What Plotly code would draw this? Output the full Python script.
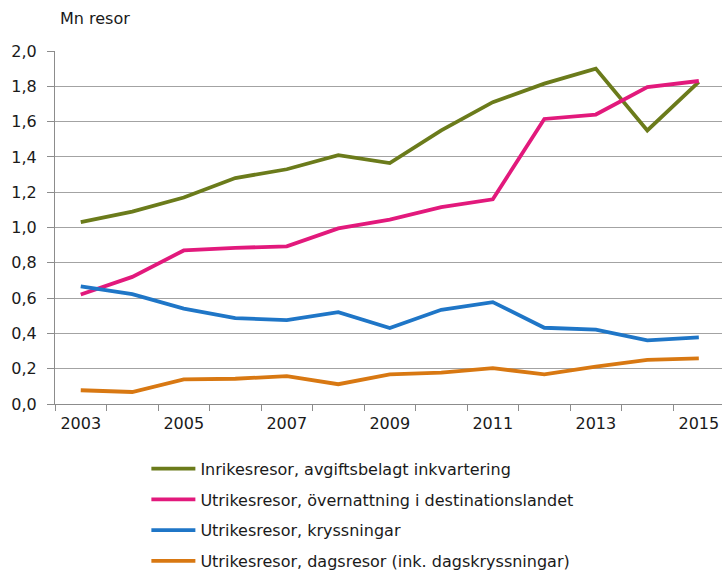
import plotly.graph_objects as go

years = list(range(2003, 2016))
inrikes = [1.03, 1.09, 1.17, 1.28, 1.33, 1.41, 1.365, 1.55, 1.71, 1.815, 1.90, 1.55, 1.825]
utrikes_overnatt = [0.62, 0.72, 0.87, 0.885, 0.893, 0.995, 1.045, 1.115, 1.16, 1.615, 1.64, 1.795, 1.83]
utrikes_kryss = [0.666, 0.622, 0.54, 0.487, 0.475, 0.52, 0.43, 0.534, 0.577, 0.432, 0.422, 0.36, 0.377]
utrikes_dags = [0.078, 0.068, 0.14, 0.143, 0.158, 0.112, 0.168, 0.178, 0.203, 0.168, 0.212, 0.25, 0.258]

names = [
    "Inrikesresor, avgiftsbelagt inkvartering",
    "Utrikesresor, övernattning i destinationslandet",
    "Utrikesresor, kryssningar",
    "Utrikesresor, dagsresor (ink. dagskryssningar)",
]
colors = ["#6b7b1b", "#e2197c", "#1f76c7", "#d87812"]
series = [inrikes, utrikes_overnatt, utrikes_kryss, utrikes_dags]

y_ticks = [0.0, 0.2, 0.4, 0.6, 0.8, 1.0, 1.2, 1.4, 1.6, 1.8, 2.0]
x_labels = [2003, 2005, 2007, 2009, 2011, 2013, 2015]

fig = go.Figure()
for i, (name, vals, col) in enumerate(zip(names, series, colors)):
    fig.add_trace(go.Scatter(
        x=years, y=vals, name=name, mode="lines",
        line=dict(color=col, width=3.8),
        legendgroup=f"g{i}",
    ))

font = "DejaVu Sans, Liberation Sans, Arial, sans-serif"
fig.update_layout(
    width=722, height=572,
    margin=dict(l=55, r=0, t=51, b=168, autoexpand=False),
    paper_bgcolor="white", plot_bgcolor="white",
    separators=", ",
    font=dict(family=font, size=16, color="#1a1a1a"),
    showlegend=True,
    legend=dict(
        x=0.137, y=-0.135, xanchor="left", yanchor="top",
        orientation="v", tracegroupgap=7,
        font=dict(family=font, size=16, color="#1a1a1a"),
        itemwidth=44, bgcolor="rgba(0,0,0,0)",
    ),
    xaxis=dict(
        range=[2002.5, 2015.45], tickmode="array", tickvals=x_labels,
        ticktext=[str(v) for v in x_labels],
        ticks="", showgrid=False, zeroline=False, automargin=False,
        showline=True, linecolor="#8c8c8c", linewidth=1,
        minor=dict(tick0=2002.5, dtick=1, ticks="outside", ticklen=6,
                   tickcolor="#8c8c8c", showgrid=False),
        tickfont=dict(size=16), ticklabelstandoff=5,
    ),
    yaxis=dict(
        range=[0, 2.0], tickmode="array", tickvals=y_ticks, tickformat=".1f",
        ticks="outside", ticklen=7, tickcolor="#8c8c8c", automargin=False,
        showgrid=True, gridcolor="#a3a3a3", gridwidth=1,
        zeroline=False, showline=True, linecolor="#8c8c8c", linewidth=1,
        tickfont=dict(size=16), ticklabelstandoff=7,
    ),
    annotations=[dict(
        text="Mn resor", xref="paper", yref="paper",
        x=(58 - 55) / 667, y=1 + (51 - 18) / 353,
        xanchor="left", yanchor="middle", showarrow=False,
        font=dict(family=font, size=16, color="#1a1a1a"),
    )],
)

fig.write_html(
    "out.html",
    config={"displayModeBar": False},
    post_script="document.body.style.margin='0';document.body.style.overflow='hidden';",
)
